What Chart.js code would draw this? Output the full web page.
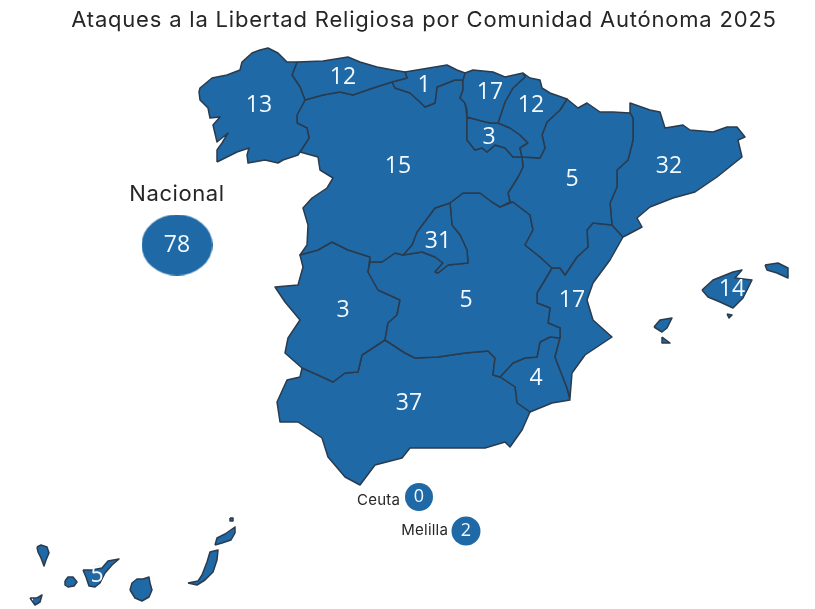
<!DOCTYPE html>
<html lang="es">
<head>
<meta charset="utf-8">
<title>Ataques a la Libertad Religiosa</title>
<style>html,body{margin:0;padding:0;background:#fff}canvas{display:block}</style>
<script src="https://cdn.jsdelivr.net/npm/chart.js@4/dist/chart.umd.min.js"></script>
</head>
<body>
<canvas id="c" width="815" height="609"></canvas>
<script>
const chartTitle = "Ataques a la Libertad Religiosa por Comunidad Autónoma 2025";
const regionNames = ["Galicia","Asturias","Cantabria","País Vasco","Navarra","La Rioja","Castilla y León","Aragón","Cataluña","Madrid","Castilla-La Mancha","C. Valenciana","Extremadura","Andalucía","Murcia","Baleares","Canarias"];
const regionCounts = [13,12,1,17,12,3,15,5,32,31,5,17,3,37,4,14,5];
const bubbleNames = ["Nacional","Ceuta","Melilla"];
const bubbleCounts = [78,0,2];

// Outlines, in map units.
const galicia = [[217,162],[217,150],[222,143],[228,133],[217,142],[213,125],[220,117],[210,118],[208,108],[200,100],[199,92],[200,88],[212,78],[227,75],[240,70],[242,62],[252,53],[260,50],[268,48],[278,53],[287,62],[297,62],[292,75],[300,87],[305,100],[297,115],[297,123],[307,128],[309,138],[300,152],[298,155],[283,160],[278,163],[265,160],[248,163],[247,155],[249,148],[237,152]];
const asturias = [[297,62],[323,61],[348,57],[360,62],[377,67],[393,70],[405,72],[407,78],[392,82],[373,88],[353,95],[340,92],[323,95],[305,100],[300,87],[292,75]];
const cantabria = [[405,72],[423,69],[447,65],[457,70],[465,73],[463,80],[455,80],[437,87],[435,103],[425,107],[420,102],[410,93],[395,88],[392,82],[407,78]];
const paisVasco = [[465,73],[473,70],[493,72],[505,77],[523,73],[525,77],[513,88],[505,102],[500,117],[498,123],[490,123],[478,120],[467,117],[467,110],[465,103],[460,98],[463,90],[463,80]];
const trevino = [[478,108],[490,108],[492,115],[498,117],[498,123],[487,123],[478,115]];
const villaverde = [[460,100],[465,97],[470,100],[468,105],[462,105]];
const navarra = [[523,73],[530,78],[540,80],[542,88],[550,93],[567,99],[560,110],[547,122],[542,135],[545,148],[540,158],[522,157],[520,148],[528,143],[520,135],[510,128],[498,123],[500,117],[505,102],[513,88],[525,77]];
const laRioja = [[467,117],[467,140],[475,150],[482,148],[487,152],[495,145],[505,148],[513,157],[522,157],[520,148],[528,143],[520,135],[510,128],[498,123],[490,123],[478,120]];
const castillaLeon = [[305,100],[323,95],[340,92],[353,95],[373,88],[392,82],[395,88],[410,93],[420,102],[425,107],[435,103],[437,87],[455,80],[463,80],[463,90],[460,98],[465,103],[467,117],[467,140],[475,150],[482,148],[487,152],[495,145],[505,148],[513,157],[522,157],[523,167],[518,177],[508,193],[510,202],[500,207],[492,202],[480,193],[463,193],[450,203],[435,208],[417,232],[412,245],[403,255],[395,253],[382,262],[370,262],[370,257],[348,250],[332,242],[318,250],[300,255],[307,245],[308,225],[303,208],[312,198],[327,188],[333,178],[320,170],[318,157],[300,152],[309,138],[307,128],[297,123],[297,115]];
const aragon = [[567,99],[578,108],[587,103],[600,112],[613,112],[630,113],[633,118],[633,140],[628,160],[617,170],[617,187],[610,203],[612,225],[593,223],[587,230],[588,247],[577,257],[565,275],[560,268],[552,268],[540,257],[525,245],[533,230],[530,215],[513,202],[510,202],[508,193],[518,177],[523,167],[522,157],[540,158],[545,148],[542,135],[547,122],[560,110]];
const cataluna = [[630,113],[630,103],[650,110],[660,112],[665,128],[683,125],[690,130],[713,132],[727,127],[737,127],[745,137],[738,140],[742,157],[717,177],[695,192],[673,198],[650,207],[637,218],[642,227],[627,235],[623,237],[612,225],[610,203],[617,187],[617,170],[628,160],[633,140],[633,118]];
const madrid = [[450,203],[452,225],[460,235],[467,250],[468,263],[448,265],[438,273],[435,272],[443,263],[435,257],[422,252],[403,255],[412,245],[417,232],[435,208]];
const castillaMancha = [[370,262],[382,262],[395,253],[403,255],[422,252],[435,257],[443,263],[435,272],[438,273],[448,265],[468,263],[467,250],[460,235],[452,225],[450,203],[463,193],[480,193],[492,202],[500,207],[513,202],[530,215],[533,230],[525,245],[540,257],[552,268],[537,293],[537,303],[550,308],[548,323],[560,328],[560,338],[550,337],[540,342],[537,357],[525,358],[513,363],[500,377],[493,375],[495,358],[488,351],[465,353],[438,357],[415,358],[405,353],[385,340],[388,323],[397,315],[400,300],[378,290],[368,272]];
const valencia = [[623,237],[610,260],[593,283],[587,300],[593,320],[612,337],[585,355],[572,373],[570,398],[567,388],[555,357],[560,338],[560,328],[548,323],[550,308],[537,303],[537,293],[552,268],[560,268],[565,275],[577,257],[588,247],[587,230],[593,223],[612,225]];
const extremadura = [[385,340],[388,323],[397,315],[400,300],[378,290],[368,272],[370,257],[348,250],[332,242],[318,250],[300,255],[303,267],[298,285],[275,287],[285,302],[300,320],[288,338],[285,353],[302,368],[318,375],[333,382],[345,373],[358,372],[362,355]];
const andalucia = [[500,377],[493,375],[495,358],[488,351],[465,353],[438,357],[415,358],[405,353],[385,340],[362,355],[358,372],[345,373],[333,382],[318,375],[302,368],[300,377],[287,380],[277,402],[280,422],[298,422],[322,438],[328,457],[345,477],[360,485],[375,465],[402,458],[410,448],[452,448],[485,448],[505,442],[510,447],[522,430],[530,412],[517,403],[515,387]];
const murcia = [[560,338],[550,337],[540,342],[537,357],[525,358],[513,363],[500,377],[515,387],[517,403],[530,412],[552,403],[570,400],[567,388],[555,357]];
const mallorca = [[702,290],[713,280],[733,272],[742,270],[735,278],[752,280],[743,298],[733,308],[720,302],[708,297]];
const cabrera = [[727,314],[732,315],[729,318]];
const menorca = [[765,265],[778,263],[788,268],[788,278],[777,273],[767,270]];
const ibiza = [[654,327],[660,320],[672,318],[667,328],[662,332]];
const formentera = [[662,337],[670,343],[662,343]];
const laPalma = [[37,547],[41,545],[47,547],[49,553],[46,560],[44,566],[41,558],[38,552]];
const hierro = [[30,598],[37,598],[42,595],[40,602],[35,605]];
const gomera = [[65,581],[68,577],[73,577],[77,582],[74,586],[68,587],[65,585]];
const tenerife = [[83,570],[92,570],[102,568],[108,561],[119,559],[112,565],[105,573],[100,583],[95,587],[89,586],[86,577]];
const granCanaria = [[130,590],[132,583],[137,579],[143,579],[149,577],[150,583],[152,590],[149,597],[142,601],[135,598]];
const fuerteventura = [[188,583],[198,581],[202,575],[207,562],[210,552],[218,550],[217,560],[213,572],[205,580],[197,585]];
const lanzarote = [[215,545],[217,538],[225,534],[235,527],[235,533],[231,540],[222,543]];
const graciosa = [[230,518],[233,518],[233,521],[230,521]];

const regionShapes = [galicia,asturias,cantabria,paisVasco,navarra,laRioja,castillaLeon,aragon,cataluna,madrid,castillaMancha,valencia,extremadura,andalucia,murcia,trevino,villaverde,mallorca,cabrera,menorca,ibiza,formentera,laPalma,hierro,gomera,tenerife,granCanaria,fuerteventura,lanzarote,graciosa];
const regionAnchors = [[259,105],[343,77],[424,85],[490,92],[531,105],[489,137],[398,166],[572,179],[669,166],[438,241],[466,300],[572,300],[343,310],[409,403],[536,378],[732,289],[97,575]];
const bubbleAnchors = [[177,245],[419,497],[466,531]];

const BLUE = "#1e69a6", EDGE = "#2b3b4e", TEXT = "#262626";

const nacionalMark = document.createElement("canvas");
nacionalMark.width = 71; nacionalMark.height = 61;
const nm = nacionalMark.getContext("2d");
nm.fillStyle = BLUE; nm.beginPath(); nm.ellipse(35.5,30.5,35.5,30.5,0,0,Math.PI*2); nm.fill();

const shapeSets = regionShapes.map(s => ({
  type:"scatter", showLine:true, fill:"shape", tension:0, clip:false,
  backgroundColor:BLUE, borderColor:EDGE, borderWidth:1.5, borderJoinStyle:"round",
  pointRadius:0, pointHoverRadius:0,
  data:[...s, s[0]].map(p => ({x:p[0], y:p[1]}))
}));

const bubbleSet = {
  type:"bubble", clip:false, backgroundColor:BLUE, borderWidth:0,
  pointStyle:[nacionalMark,"circle","circle"],
  data:bubbleAnchors.map((p,i) => ({x:p[0], y:p[1], r:[30,14,14.5][i]}))
};

const spacingPlugin = {
  id:"titleSpacing",
  beforeDraw(chart){ chart.ctx.letterSpacing = "0.8px"; },
  beforeDatasetsDraw(chart){ chart.ctx.letterSpacing = "0px"; }
};

const textPlugin = {
  id:"mapText",
  afterDatasetsDraw(chart){
    const {ctx, scales:{x,y}} = chart;
    ctx.save();
    ctx.letterSpacing = "0px";
    ctx.textBaseline = "middle";
    ctx.textAlign = "center";
    ctx.fillStyle = "#f2f9ff";
    ctx.font = '23px "Open Sans"';
    regionCounts.forEach((v,i) => ctx.fillText(String(v), x.getPixelForValue(regionAnchors[i][0]), y.getPixelForValue(regionAnchors[i][1])));
    bubbleCounts.forEach((v,i) => {
      ctx.font = (i===0 ? 23 : 18) + 'px "Open Sans"';
      ctx.fillText(String(v), x.getPixelForValue(bubbleAnchors[i][0]), y.getPixelForValue(bubbleAnchors[i][1]));
    });
    ctx.fillStyle = TEXT;
    ctx.letterSpacing = "0.6px";
    ctx.font = '22px Inter';
    ctx.fillText(bubbleNames[0], x.getPixelForValue(177), y.getPixelForValue(194));
    ctx.letterSpacing = "0.2px";
    ctx.font = '15px Inter';
    ctx.textAlign = "right";
    ctx.fillText(bubbleNames[1], x.getPixelForValue(400), y.getPixelForValue(500));
    ctx.fillText(bubbleNames[2], x.getPixelForValue(448), y.getPixelForValue(530));
    ctx.restore();
  }
};

new Chart(document.getElementById("c"), {
  type:"scatter",
  data:{datasets:[...shapeSets, bubbleSet]},
  plugins:[spacingPlugin, textPlugin],
  options:{
    responsive:false, animation:false, events:[],
    layout:{padding:{left:33,right:0,top:0,bottom:0}, autoPadding:false},
    plugins:{
      legend:{display:false}, tooltip:{enabled:false},
      title:{display:true, text:chartTitle, color:TEXT, font:{family:"Inter", size:22, weight:"400", lineHeight:1.2}, padding:{top:7,bottom:8}}
    },
    scales:{
      x:{type:"linear", display:false, min:33, max:815},
      y:{type:"linear", display:false, reverse:true, min:41.4, max:609}
    }
  }
});
</script>
</body>
</html>
